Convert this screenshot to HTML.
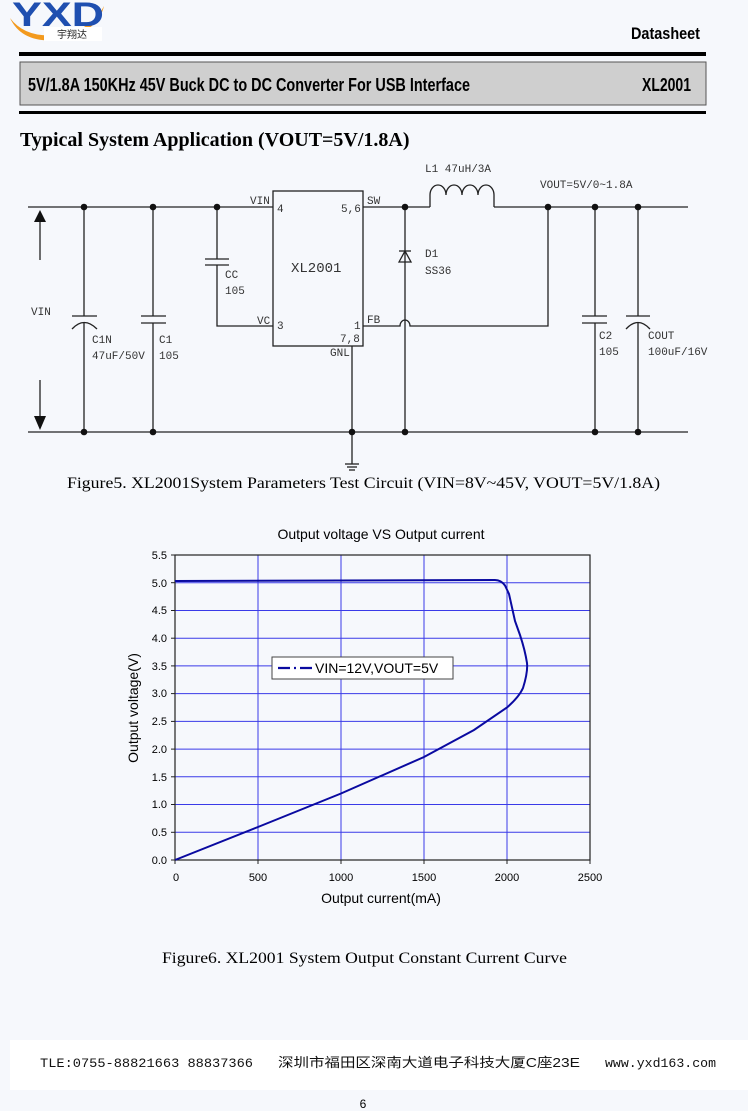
<!DOCTYPE html>
<html><head><meta charset="utf-8"><style>
html,body{margin:0;padding:0;background:#f6f8fc;}
svg{display:block}
</style></head><body>
<svg width="748" height="1111" viewBox="0 0 748 1111" xmlns="http://www.w3.org/2000/svg">
<rect width="748" height="1111" fill="#f6f8fc"/>
<!-- logo -->
<path d="M10 18 Q28 42 70 33 Q95 25 104 6 Q98 32 60 40 Q22 44 10 18Z" fill="#f39a1e"/>
<text x="12" y="26" font-family="Liberation Sans, sans-serif" font-weight="bold" font-size="34" fill="#1f4fb0" textLength="92" lengthAdjust="spacingAndGlyphs">YXD</text>
<rect x="44" y="27" width="58" height="14" fill="#fff"/>
<text x="57" y="38" font-family="Liberation Sans, 'Noto Sans CJK SC', sans-serif" font-size="10" fill="#222">宇翔达</text>
<!-- header -->
<text x="700" y="39" text-anchor="end" font-family="Liberation Sans, sans-serif" font-weight="bold" font-size="17" textLength="69" lengthAdjust="spacingAndGlyphs">Datasheet</text>
<rect x="19" y="52" width="687" height="4" fill="#000"/>
<rect x="20" y="62" width="686" height="43" fill="#cfcfcf" stroke="#555" stroke-width="1"/>
<text x="28" y="91" font-family="Liberation Sans, sans-serif" font-weight="bold" font-size="18" textLength="442" lengthAdjust="spacingAndGlyphs">5V/1.8A 150KHz 45V Buck DC to DC Converter For USB Interface</text>
<text x="691" y="91" text-anchor="end" font-family="Liberation Sans, sans-serif" font-weight="bold" font-size="18" textLength="49" lengthAdjust="spacingAndGlyphs">XL2001</text>
<rect x="19" y="111" width="687" height="3" fill="#000"/>
<text x="20" y="146" font-family="Liberation Serif, serif" font-weight="bold" font-size="20">Typical System Application (VOUT=5V/1.8A)</text>

<!-- schematic -->
<g stroke="#222" stroke-width="1.3" fill="none">
<line x1="28" y1="207" x2="273" y2="207"/>
<line x1="28" y1="432" x2="688" y2="432"/>
<line x1="363" y1="207" x2="430" y2="207"/>
<line x1="494" y1="207" x2="688" y2="207"/>
<path d="M430 207 V195 A8 10 0 0 1 446 195 A8 10 0 0 1 462 195 A8 10 0 0 1 478 195 A8 10 0 0 1 494 195 V207"/>
<rect x="273" y="191" width="90" height="155"/>
<line x1="40" y1="222" x2="40" y2="260"/>
<line x1="40" y1="380" x2="40" y2="418"/>
<line x1="84" y1="207" x2="84" y2="316"/><line x1="72" y1="316" x2="97" y2="316"/>
<path d="M72 329 Q84 316 97 329"/><line x1="84" y1="323" x2="84" y2="432"/>
<line x1="153" y1="207" x2="153" y2="316"/><line x1="141" y1="316" x2="166" y2="316"/><line x1="141" y1="323" x2="166" y2="323"/><line x1="153" y1="323" x2="153" y2="432"/>
<line x1="217" y1="207" x2="217" y2="259"/><line x1="205" y1="259" x2="229" y2="259"/><line x1="205" y1="265" x2="229" y2="265"/><path d="M217 265 V326 H273"/>
<line x1="352" y1="346" x2="352" y2="464"/>
<line x1="345" y1="464" x2="359" y2="464"/><line x1="347" y1="467" x2="357" y2="467"/><line x1="349" y1="470" x2="355" y2="470"/>
<line x1="405" y1="207" x2="405" y2="432"/>
<line x1="399" y1="251" x2="411" y2="251"/><path d="M399 262 L405 251 L411 262 Z"/>
<path d="M363 326 H400 A5 6 0 0 1 410 326 H548 V207"/>
<line x1="595" y1="207" x2="595" y2="316"/><line x1="582" y1="316" x2="607" y2="316"/><line x1="582" y1="323" x2="607" y2="323"/><line x1="595" y1="323" x2="595" y2="432"/>
<line x1="638" y1="207" x2="638" y2="316"/><line x1="626" y1="316" x2="650" y2="316"/><path d="M626 329 Q638 316 650 329"/><line x1="638" y1="323" x2="638" y2="432"/>
</g>
<path d="M34 222 L40 210 L46 222Z M34 416 L40 430 L46 416Z" fill="#111"/>
<g fill="#111">
<circle cx="84" cy="207" r="3.3"/><circle cx="153" cy="207" r="3.3"/><circle cx="217" cy="207" r="3.3"/>
<circle cx="405" cy="207" r="3.3"/><circle cx="548" cy="207" r="3.3"/><circle cx="595" cy="207" r="3.3"/><circle cx="638" cy="207" r="3.3"/>
<circle cx="84" cy="432" r="3.3"/><circle cx="153" cy="432" r="3.3"/><circle cx="352" cy="432" r="3.3"/><circle cx="405" cy="432" r="3.3"/><circle cx="595" cy="432" r="3.3"/><circle cx="638" cy="432" r="3.3"/>
</g>
<g font-family="Liberation Mono, monospace" font-size="11" fill="#333">
<text x="250" y="204">VIN</text><text x="277" y="212">4</text>
<text x="341" y="212">5,6</text><text x="367" y="204">SW</text>
<text x="257" y="324">VC</text><text x="277" y="329">3</text>
<text x="367" y="323">FB</text><text x="354" y="329">1</text><text x="340" y="342">7,8</text><text x="330" y="356">GNL</text>
<text x="291" y="272" font-size="14">XL2001</text>
<text x="225" y="278">CC</text><text x="225" y="294">105</text>
<text x="31" y="315">VIN</text>
<text x="92" y="343">C1N</text><text x="92" y="359">47uF/50V</text>
<text x="159" y="343">C1</text><text x="159" y="359">105</text>
<text x="425" y="257">D1</text><text x="425" y="274">SS36</text>
<text x="425" y="172">L1 47uH/3A</text>
<text x="540" y="188">VOUT=5V/0~1.8A</text>
<text x="599" y="339">C2</text><text x="599" y="355">105</text>
<text x="648" y="339">COUT</text><text x="648" y="355">100uF/16V</text>
</g>
<text x="67" y="488" font-family="Liberation Serif, serif" font-size="16" textLength="593" lengthAdjust="spacingAndGlyphs">Figure5. XL2001System Parameters Test Circuit (VIN=8V~45V, VOUT=5V/1.8A)</text>

<!-- chart -->
<g font-family="Liberation Sans, sans-serif">
<text x="381" y="539" text-anchor="middle" font-size="14">Output voltage VS Output current</text>
<g stroke="#3a3ae8" stroke-width="1">
<line x1="258" y1="555" x2="258" y2="860"/><line x1="341" y1="555" x2="341" y2="860"/><line x1="424" y1="555" x2="424" y2="860"/><line x1="507" y1="555" x2="507" y2="860"/>
<line x1="175" y1="832.3" x2="590" y2="832.3"/><line x1="175" y1="804.5" x2="590" y2="804.5"/><line x1="175" y1="776.8" x2="590" y2="776.8"/><line x1="175" y1="749.1" x2="590" y2="749.1"/><line x1="175" y1="721.4" x2="590" y2="721.4"/><line x1="175" y1="693.6" x2="590" y2="693.6"/><line x1="175" y1="665.9" x2="590" y2="665.9"/><line x1="175" y1="638.2" x2="590" y2="638.2"/><line x1="175" y1="610.5" x2="590" y2="610.5"/><line x1="175" y1="582.7" x2="590" y2="582.7"/>
</g>
<rect x="175" y="555" width="415" height="305" fill="none" stroke="#222" stroke-width="1.2"/>
<path d="M175 860 L258 827 L341 793.5 L424 757 L474 730 L507 707.5 Q519 697 523 688 Q528 672 527 663 Q525 650 520 635 L515 621 L509 594 L505 585.5 Q501 580 495 580 L175 581" fill="none" stroke="#0a0aa0" stroke-width="2"/>
<g stroke="#222" stroke-width="1">
<line x1="171" y1="555" x2="175" y2="555"/><line x1="171" y1="582.7" x2="175" y2="582.7"/><line x1="171" y1="610.5" x2="175" y2="610.5"/><line x1="171" y1="638.2" x2="175" y2="638.2"/><line x1="171" y1="665.9" x2="175" y2="665.9"/><line x1="171" y1="693.6" x2="175" y2="693.6"/><line x1="171" y1="721.4" x2="175" y2="721.4"/><line x1="171" y1="749.1" x2="175" y2="749.1"/><line x1="171" y1="776.8" x2="175" y2="776.8"/><line x1="171" y1="804.5" x2="175" y2="804.5"/><line x1="171" y1="832.3" x2="175" y2="832.3"/><line x1="171" y1="860" x2="175" y2="860"/>
<line x1="258" y1="860" x2="258" y2="864"/><line x1="341" y1="860" x2="341" y2="864"/><line x1="424" y1="860" x2="424" y2="864"/><line x1="507" y1="860" x2="507" y2="864"/><line x1="590" y1="860" x2="590" y2="864"/><line x1="175" y1="860" x2="175" y2="864"/>
</g>
<g font-size="11" text-anchor="end">
<text x="167" y="559">5.5</text><text x="167" y="587">5.0</text><text x="167" y="614">4.5</text><text x="167" y="642">4.0</text><text x="167" y="670">3.5</text><text x="167" y="697">3.0</text><text x="167" y="725">2.5</text><text x="167" y="753">2.0</text><text x="167" y="781">1.5</text><text x="167" y="808">1.0</text><text x="167" y="836">0.5</text><text x="167" y="864">0.0</text>
</g>
<g font-size="11" text-anchor="middle">
<text x="176" y="881">0</text><text x="258" y="881">500</text><text x="341" y="881">1000</text><text x="424" y="881">1500</text><text x="507" y="881">2000</text><text x="590" y="881">2500</text>
</g>
<text x="381" y="903" text-anchor="middle" font-size="14">Output current(mA)</text>
<text transform="translate(138 708) rotate(-90)" text-anchor="middle" font-size="14">Output voltage(V)</text>
<rect x="272" y="657" width="181" height="22" fill="#fff" stroke="#444"/>
<path d="M278 668 H290 M294 668 H296 M300 668 H312" stroke="#0a0aa0" stroke-width="2.2"/>
<text x="315" y="673" font-size="14">VIN=12V,VOUT=5V</text>
</g>
<text x="162" y="963" font-family="Liberation Serif, serif" font-size="16" textLength="405" lengthAdjust="spacingAndGlyphs">Figure6. XL2001 System Output Constant Current Curve</text>

<!-- footer -->
<rect x="10" y="1040" width="738" height="50" fill="#fff"/>
<g font-family="Liberation Mono, 'Noto Sans CJK SC', monospace" font-size="13" fill="#111">
<text x="40" y="1067" textLength="213" lengthAdjust="spacingAndGlyphs">TLE:0755-88821663  88837366</text>
<text x="278" y="1067" font-family="Liberation Sans, 'Noto Sans CJK SC', sans-serif" textLength="302" lengthAdjust="spacingAndGlyphs">深圳市福田区深南大道电子科技大厦C座23E</text>
<text x="605" y="1067" textLength="111" lengthAdjust="spacingAndGlyphs">www.yxd163.com</text>
</g>
<text x="363" y="1108" text-anchor="middle" font-family="Liberation Sans, sans-serif" font-size="12">6</text>
</svg>
</body></html>
